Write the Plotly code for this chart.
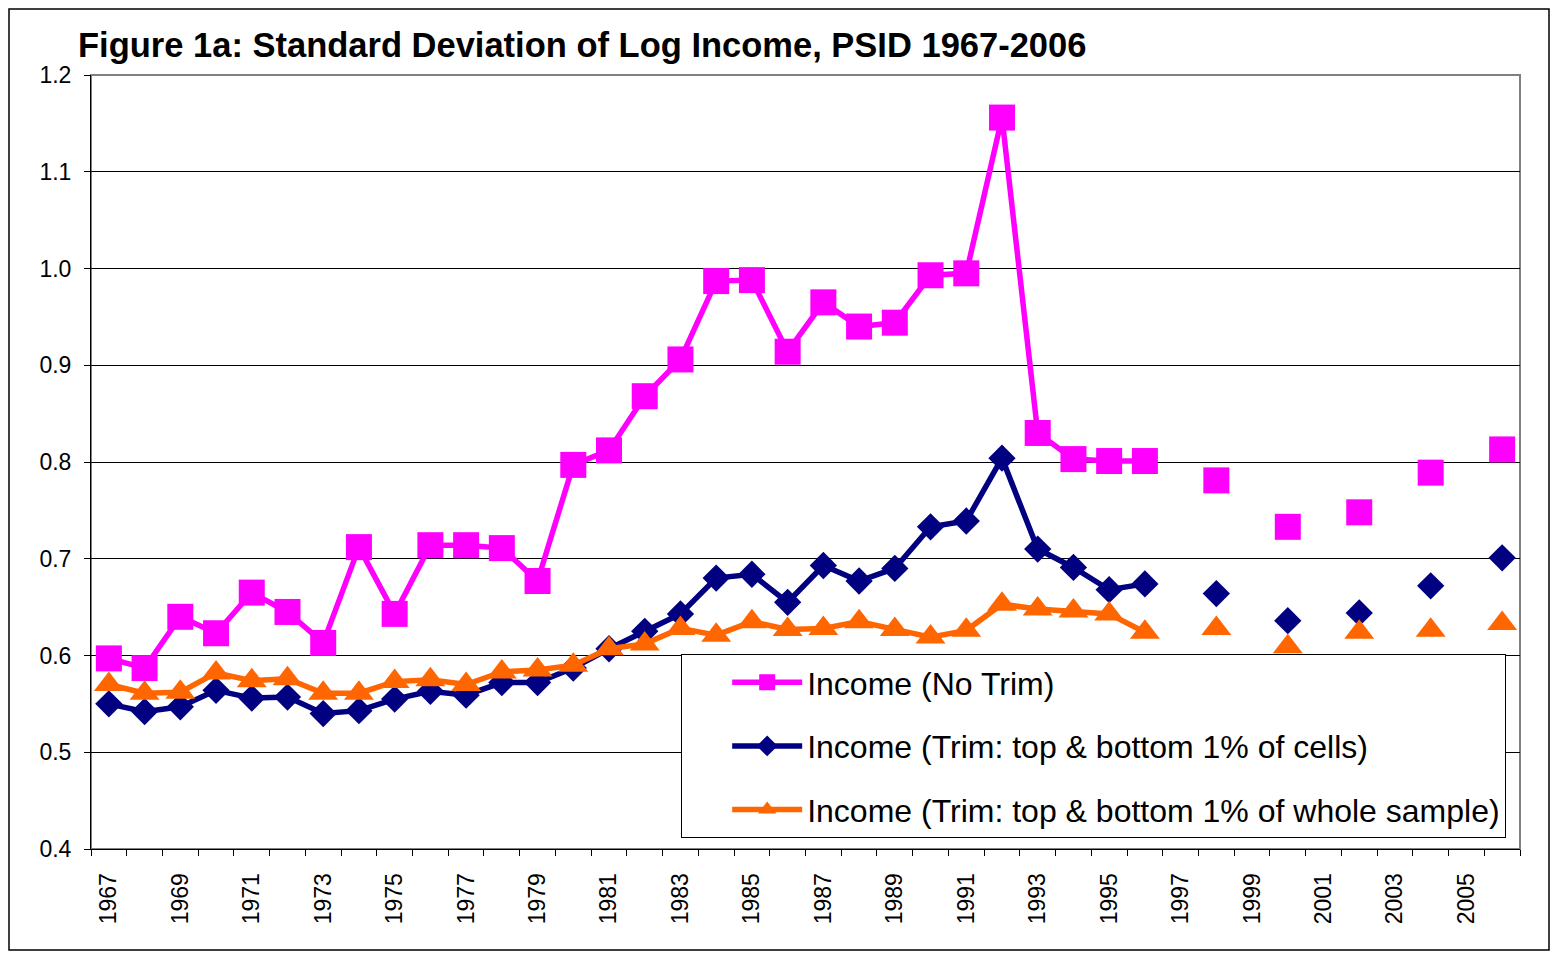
import plotly.graph_objects as go

years = list(range(1967, 2007))

# standard deviation of log income, None = no survey that year
no_trim = [0.597, 0.587, 0.640, 0.623, 0.665, 0.645, 0.613, 0.712, 0.643, 0.714,
           0.714, 0.711, 0.677, 0.797, 0.812, 0.868, 0.906, 0.987, 0.988, 0.914,
           0.965, 0.940, 0.944, 0.993, 0.995, 1.156, 0.830, 0.803, 0.801, 0.801,
           None, 0.781, None, 0.733, None, 0.748, None, 0.789, None, 0.813]
trim_cells = [0.550, 0.542, 0.547, 0.564, 0.556, 0.557, 0.540, 0.543, 0.555, 0.563,
              0.559, 0.572, 0.572, 0.587, 0.607, 0.625, 0.643, 0.680, 0.684, 0.655,
              0.693, 0.677, 0.690, 0.733, 0.739, 0.804, 0.710, 0.691, 0.668, 0.674,
              None, 0.664, None, 0.636, None, 0.644, None, 0.672, None, 0.701]
trim_whole = [0.570, 0.561, 0.562, 0.582, 0.574, 0.576, 0.561, 0.561, 0.573, 0.575,
              0.570, 0.583, 0.585, 0.590, 0.607, 0.612, 0.628, 0.621, 0.635, 0.627,
              0.628, 0.635, 0.627, 0.619, 0.626, 0.653, 0.648, 0.646, 0.643, 0.624,
              None, 0.628, None, 0.609, None, 0.624, None, 0.626, None, 0.633]

names = ["Income (No Trim)",
         "Income (Trim: top & bottom 1% of cells)",
         "Income (Trim: top & bottom 1% of whole sample)"]
tick_years = list(range(1967, 2006, 2))

FONT = "Arial, Liberation Sans, sans-serif"

# page body has an 8px margin, so the figure is sized to fit inside it
W, H = 1542, 943
L, R, T, B = 83, 30, 67, 102
pw, ph = W - L - R, H - T - B

fig = go.Figure()
series = [
    (no_trim, "#FF00FF", "square", 26),
    (trim_cells, "#000080", "diamond", 21),
    (trim_whole, "#FF6600", "triangle-up", 26),
]
for i, (vals, col, sym, sz) in enumerate(series):
    fig.add_trace(go.Scatter(
        x=years, y=vals, name=names[i], mode="lines+markers",
        connectgaps=False, legendgroup=str(i),
        line=dict(color=col, width=5.5),
        marker=dict(symbol=sym, size=sz, color=col, line=dict(width=0)),
    ))

fig.update_layout(
    width=W, height=H,
    margin=dict(l=L, r=R, t=T, b=B),
    paper_bgcolor="white", plot_bgcolor="white",
    font=dict(family=FONT, color="black"),
    title=dict(text="<b>Figure 1a: Standard Deviation of Log Income, PSID 1967-2006</b>",
               font=dict(size=34.5, family=FONT), x=70 / W, xanchor="left",
               xref="container", y=1 - 37 / H, yanchor="middle"),
    showlegend=True,
    legend=dict(x=0.413, y=0.2519, xanchor="left", yanchor="top",
                bgcolor="white", bordercolor="black", borderwidth=1,
                font=dict(size=32, family=FONT), itemwidth=70, indentation=45,
                tracegroupgap=19, traceorder="grouped"),
    shapes=[
        dict(type="rect", xref="paper", yref="paper", x0=0, x1=1, y0=0, y1=1,
             line=dict(color="#808080", width=2), layer="below"),
        dict(type="rect", xref="paper", yref="paper",
             x0=(1 - L) / pw, x1=(W - 1 - L) / pw,
             y0=(T + ph - (H - 1)) / ph, y1=(T + ph - 1) / ph,
             line=dict(color="black", width=1.5)),
    ],
)

fig.update_xaxes(
    range=[1966.5, 2006.5], tickmode="array", tickvals=tick_years,
    ticktext=[str(y) for y in tick_years], tickangle=-90, ticks="",
    tickfont=dict(size=23), ticklabelstandoff=14,
    showgrid=False, zeroline=False,
    showline=True, linecolor="black", linewidth=1,
    minor=dict(ticks="outside", tick0=1966.5, dtick=1, ticklen=6,
               tickcolor="black", showgrid=False),
)
fig.update_yaxes(
    range=[0.4, 1.2], tickmode="linear", tick0=0.4, dtick=0.1, tickformat=".1f",
    ticks="outside", ticklen=6, tickcolor="black", tickfont=dict(size=23),
    ticklabelstandoff=8,
    showgrid=True, gridcolor="black", gridwidth=1, zeroline=False,
    showline=True, linecolor="black", linewidth=1,
)

fig.write_html("out.html")
